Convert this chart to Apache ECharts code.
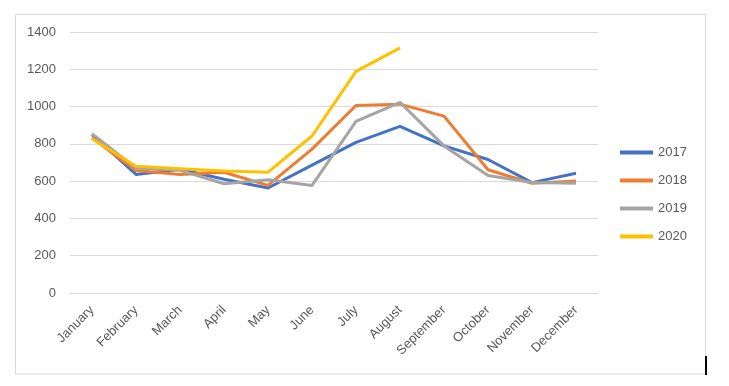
<!DOCTYPE html>
<html>
<head>
<meta charset="utf-8">
<script src="https://cdn.jsdelivr.net/npm/echarts@6/dist/echarts.min.js"></script>
<style>
html,body{margin:0;padding:0;background:#fff;}
#chart{width:729px;height:386px;}
</style>
</head>
<body>
<div id="chart"></div>
<script>
var months = ["January","February","March","April","May","June","July","August","September","October","November","December"];
var yTicks = [0,200,400,600,800,1000,1200,1400];
var s2017 = [849, 636, 664, 610, 563, 686, 808, 894, 789, 716, 592, 642];
var s2018 = [832, 657, 636, 648, 577, 772, 1006, 1013, 949, 661, 589, 601];
var s2019 = [854, 670, 658, 586, 607, 577, 921, 1023, 789, 630, 593, 589];
var s2020 = [827, 680, 666, 654, 648, 842, 1189, 1315];
var seriesNames = ["2017","2018","2019","2020"];
var colors = ["#4472C4","#ED7D31","#A5A5A5","#FFC000"];
var font = "'Liberation Sans', Arial, sans-serif";

var chart = echarts.init(document.getElementById('chart'));
var data = [s2017, s2018, s2019, s2020];
chart.setOption({
  animation: false,
  backgroundColor: '#fff',
  color: colors,
  grid: {left: 70, right: 131, top: 32, bottom: 93, containLabel: false},
  legend: {
    orient: 'vertical',
    left: 615,
    top: 140,
    itemWidth: 33,
    itemHeight: 4,
    itemGap: 13,
    icon: 'rect',
    data: seriesNames,
    textStyle: {color: '#595959', fontSize: 13, fontFamily: font, lineHeight: 15}
  },
  xAxis: {
    type: 'category',
    data: months,
    boundaryGap: true,
    axisLine: {show: true, lineStyle: {color: '#D9D9D9', width: 1}},
    axisTick: {show: false},
    axisLabel: {rotate: 45, color: '#595959', fontSize: 13, fontFamily: font, margin: 15, interval: 0}
  },
  yAxis: {
    type: 'value',
    min: yTicks[0],
    max: yTicks[yTicks.length - 1],
    interval: 200,
    axisLine: {show: false},
    axisTick: {show: false},
    splitLine: {lineStyle: {color: '#D9D9D9', width: 1}},
    axisLabel: {color: '#595959', fontSize: 13, fontFamily: font, margin: 14, formatter: function (v) { return String(v); }}
  },
  series: seriesNames.map(function (n, i) {
    return {
      name: n,
      type: 'line',
      data: data[i],
      symbol: 'none',
      lineStyle: {width: 3, color: colors[i], join: 'round'},
      itemStyle: {color: colors[i]}
    };
  }),
  graphic: [
    {type: 'rect', shape: {x: 15.5, y: 14.5, width: 690, height: 359.5}, style: {fill: 'none', stroke: '#D9D9D9', lineWidth: 1}, silent: true},
    {type: 'line', shape: {x1: 706, y1: 356, x2: 706, y2: 375}, style: {stroke: '#000', lineWidth: 2}, silent: true}
  ]
});
</script>
</body>
</html>
